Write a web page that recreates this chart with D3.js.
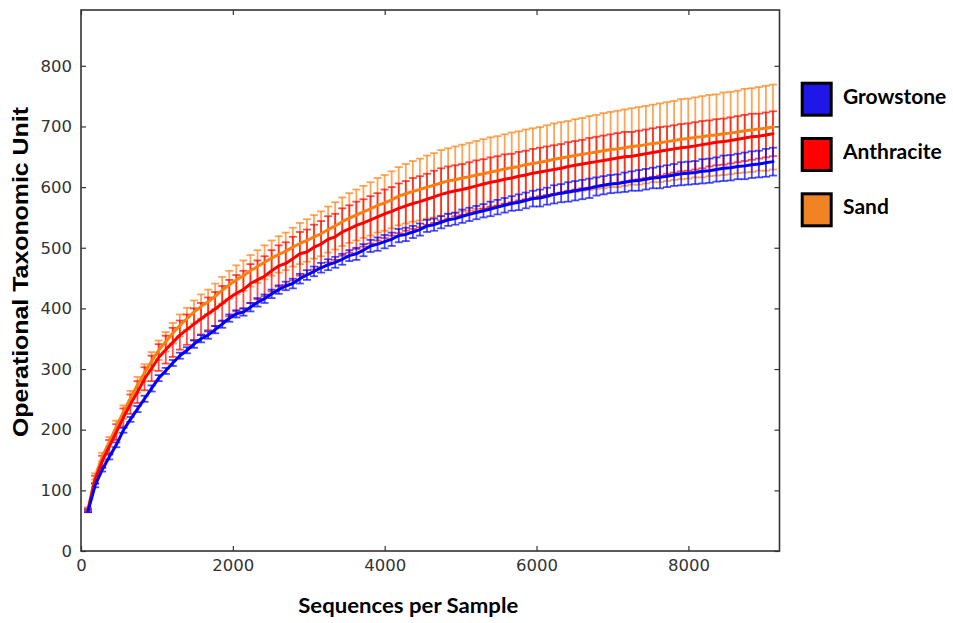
<!DOCTYPE html>
<html><head><meta charset="utf-8">
<script src="https://cdn.jsdelivr.net/npm/d3@7"></script>
<style>body{margin:0;background:#fff} svg{display:block}</style>
</head><body><svg id="c" width="953" height="623"></svg>
<script>
const depths=[93,186,279,372,465,558,651,744,837,930,
1023,1116,1209,1302,1395,1488,1581,1674,1767,1860,
1953,2046,2139,2232,2325,2418,2511,2604,2697,2790,
2883,2976,3069,3162,3255,3348,3441,3534,3627,3720,
3813,3906,3999,4092,4185,4278,4371,4464,4557,4650,
4743,4836,4929,5022,5115,5208,5301,5394,5487,5580,
5673,5766,5859,5952,6045,6138,6231,6324,6417,6510,
6603,6696,6789,6882,6975,7068,7161,7254,7347,7440,
7533,7626,7719,7812,7905,7998,8091,8184,8277,8370,
8463,8556,8649,8742,8835,8928,9021,9114];

const growstoneMean=[66,108,134,155,175,199,217,234,251,268,
285,297,310,322,331,341,350,356,365,374,
384,391,394,402,410,416,424,431,437,441,
449,455,461,467,472,476,481,487,490,496,
503,506,510,514,520,522,526,530,536,538,
542,546,548,552,555,558,561,564,567,570,
573,575,578,581,582,585,588,590,592,594,
596,598,601,603,605,606,608,610,611,613,
615,616,618,620,622,623,624,626,627,629,
631,632,634,635,637,638,640,642];
const growstoneErr=[2,3,3,4,4,4,4,5,5,5,
5,5,5,5,5,6,6,6,6,6,
6,6,6,7,7,7,7,7,7,8,
8,8,8,8,9,9,9,9,10,10,
10,11,11,11,11,11,10,10,10,10,
10,10,10,11,11,11,11,12,12,12,
12,13,13,13,14,14,15,15,16,16,
16,16,15,15,15,15,16,16,17,17,
17,18,18,18,19,19,19,20,20,20,
21,21,21,22,22,22,23,23];

const anthraciteMean=[67,118,148,172,196,220,242,262,284,301,
319,332,344,356,365,374,383,391,399,408,
417,425,431,441,447,453,462,470,474,482,
490,493,501,506,514,518,526,531,537,541,
546,551,556,560,565,569,573,576,580,584,
588,591,594,596,599,602,605,608,610,613,
615,618,620,623,625,627,629,631,634,636,
638,640,642,644,646,648,650,651,653,655,
657,659,661,663,665,666,668,670,672,674,
675,677,679,681,683,684,686,688];
const anthraciteErr=[3,6,9,11,13,15,16,18,19,21,
22,23,24,24,25,26,26,27,28,29,
30,30,31,32,32,33,34,34,35,36,
36,37,37,38,38,38,39,39,39,39,
39,39,40,40,41,41,42,42,42,43,
43,43,42,42,42,42,41,41,41,41,
40,40,40,40,40,40,40,40,40,40,
40,41,41,41,41,41,41,40,40,40,
40,40,39,39,39,39,39,39,38,38,
38,38,38,38,38,37,37,37];

const sandMean=[69,123,155,180,205,229,252,274,294,313,
331,345,359,372,383,394,403,411,420,430,
439,447,454,462,469,476,483,489,494,501,
507,512,518,523,530,536,543,549,554,559,
564,570,574,579,585,589,593,596,600,603,
607,610,612,615,617,620,622,625,627,630,
632,634,637,639,641,643,646,648,650,652,
654,656,658,660,662,663,665,667,668,670,
672,673,675,677,679,680,682,683,685,686,
688,689,691,693,694,696,697,699];
const sandErr=[3,5,7,8,10,11,12,13,14,15,
16,16,17,18,18,19,20,20,21,22,
23,24,25,26,27,28,29,30,31,32,
34,35,36,37,38,39,40,41,42,43,
44,45,46,47,48,49,50,51,52,53,
54,54,55,55,56,56,57,57,57,57,
58,58,58,58,58,59,59,59,59,60,
60,61,61,62,62,63,63,63,64,64,
64,65,65,65,66,66,66,67,67,67,
68,68,68,69,69,69,70,70];

const seriesNames=["Growstone","Anthracite","Sand"];
const lineColors=["#0000ff","#ff0000","#ff7f0e"];
const legendColors=["#1f17e8","#ff0000","#f08424"];
const xTicks=[0,2000,4000,6000,8000];
const yTicks=[0,100,200,300,400,500,600,700,800];
const xTitle="Sequences per Sample";
const yTitle="Operational Taxonomic Unit";

const series=[
  {name:seriesNames[0],mean:growstoneMean,err:growstoneErr,color:lineColors[0],legend:legendColors[0]},
  {name:seriesNames[1],mean:anthraciteMean,err:anthraciteErr,color:lineColors[1],legend:legendColors[1]},
  {name:seriesNames[2],mean:sandMean,err:sandErr,color:lineColors[2],legend:legendColors[2]}
];

const L=81,R=779.5,T=10,B=551;
const svg=d3.select("#c");
const x=d3.scaleLinear().domain([0,9200]).range([L,R]);
const y=d3.scaleLinear().domain([0,892]).range([B,T]);

// error bars: Sand first, then Anthracite, then Growstone
const barOrder=[2,1,0];
const cap=4;
barOrder.forEach(si=>{
  const s=series[si];
  const g=svg.append("g").attr("stroke",s.color).attr("stroke-opacity",0.7).attr("stroke-width",1.8).attr("fill","none");
  const pts=depths.map((d,i)=>({d,m:s.mean[i],e:s.err[i]}));
  g.selectAll("line.v").data(pts).join("line").attr("class","v")
    .attr("x1",p=>x(p.d)).attr("x2",p=>x(p.d))
    .attr("y1",p=>y(p.m-p.e)).attr("y2",p=>y(p.m+p.e));
  g.selectAll("line.t").data(pts).join("line").attr("class","t")
    .attr("x1",p=>x(p.d)-cap).attr("x2",p=>x(p.d)+cap)
    .attr("y1",p=>y(p.m+p.e)).attr("y2",p=>y(p.m+p.e));
  g.selectAll("line.b").data(pts).join("line").attr("class","b")
    .attr("x1",p=>x(p.d)-cap).attr("x2",p=>x(p.d)+cap)
    .attr("y1",p=>y(p.m-p.e)).attr("y2",p=>y(p.m-p.e));
});

// mean lines
[2,1,0].forEach(si=>{
  const s=series[si];
  const line=d3.line().x((d,i)=>x(depths[i])).y(d=>y(d));
  svg.append("path").datum(s.mean).attr("d",line)
    .attr("fill","none").attr("stroke",s.color).attr("stroke-width",3)
    .attr("stroke-linejoin","round").attr("stroke-linecap","round");
});

// axes
const axCol="#333";
function styleAxis(g){
  g.select(".domain").remove();
  g.selectAll(".tick line").attr("stroke",axCol).attr("stroke-width",1.2);
  g.selectAll(".tick text").attr("fill",axCol).attr("font-family","DejaVu Sans").attr("font-size","16.5px");
}
svg.append("g").attr("transform",`translate(0,${B})`)
  .call(d3.axisBottom(x).tickValues(xTicks).tickFormat(d3.format("d")).tickSizeInner(-5).tickSizeOuter(0).tickPadding(8)).call(styleAxis);
svg.append("g").attr("transform",`translate(0,${T})`)
  .call(d3.axisTop(x).tickValues(xTicks).tickFormat("").tickSizeInner(-5).tickSizeOuter(0)).call(styleAxis);
svg.append("g").attr("transform",`translate(${L},0)`)
  .call(d3.axisLeft(y).tickValues(yTicks).tickFormat(d3.format("d")).tickSizeInner(-5).tickSizeOuter(0).tickPadding(9)).call(styleAxis);
svg.append("g").attr("transform",`translate(${R},0)`)
  .call(d3.axisRight(y).tickValues(yTicks).tickFormat("").tickSizeInner(-5).tickSizeOuter(0)).call(styleAxis);

svg.append("rect").attr("x",L).attr("y",T).attr("width",R-L).attr("height",B-T)
  .attr("fill","none").attr("stroke",axCol).attr("stroke-width",1.6);

// axis titles
svg.append("text").attr("x",(L+R)/2-22).attr("y",613).attr("text-anchor","middle")
  .attr("font-family","Lato").attr("font-weight","bold").attr("font-size","21px")
  .attr("textLength",220).attr("lengthAdjust","spacingAndGlyphs").attr("fill","#000").text(xTitle);
svg.append("text").attr("transform","translate(28,272) rotate(-90)").attr("text-anchor","middle")
  .attr("font-family","Liberation Sans").attr("font-weight","bold").attr("font-size","22px")
  .attr("textLength",330).attr("lengthAdjust","spacingAndGlyphs").attr("fill","#000").text(yTitle);

// legend
const lg=svg.append("g");
series.forEach((s,i)=>{
  const top=81.7+i*55.3;
  lg.append("rect").attr("x",802.2).attr("y",top+1.5).attr("width",29).attr("height",32)
    .attr("fill",s.legend).attr("stroke","#000").attr("stroke-width",3);
  lg.append("text").attr("x",843).attr("y",top+21.8)
    .attr("font-family","Lato").attr("font-weight","bold").attr("font-size","21px").attr("fill","#000").text(s.name);
});
</script></body></html>
